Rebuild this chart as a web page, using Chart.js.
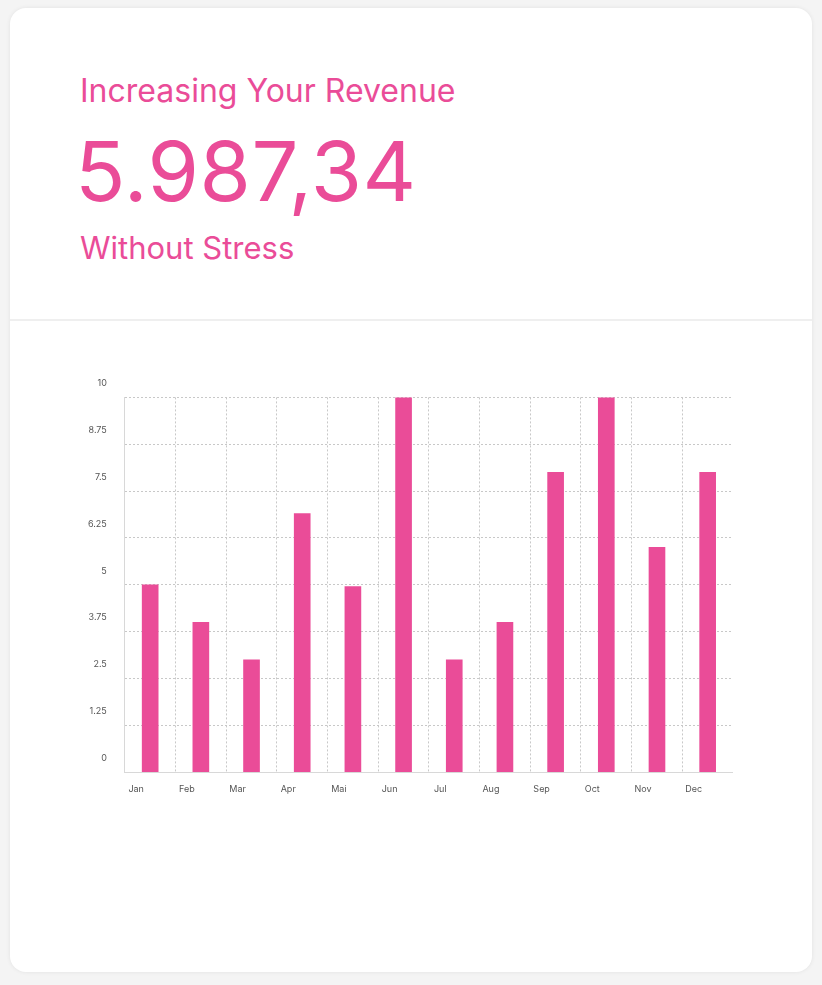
<!DOCTYPE html>
<html><head><meta charset="utf-8">
<script src="https://cdn.jsdelivr.net/npm/chart.js@4"></script>
<style>
body{margin:0;background:#f4f4f4;font-family:Inter,sans-serif}
.card{position:absolute;left:10px;top:8px;width:802px;height:964px;background:#fff;border-radius:16px;box-shadow:0 0 4px rgba(0,0,0,.08)}
.t1{position:absolute;left:70px;top:63px;font-size:32px;color:#ea4c98}
.t2{position:absolute;left:65px;top:113px;font-size:83px;color:#ea4c98;letter-spacing:0.5px}
.t3{position:absolute;left:70px;top:221px;font-size:31px;color:#ea4c98}
.hr{position:absolute;left:0;right:0;top:311px;border-top:2px solid #efefef}
.wrap{position:absolute;left:60px;top:366px;width:663px;height:433px}
</style></head><body>
<div class="card">
<div class="t1">Increasing Your Revenue</div>
<div class="t2">5.987,34</div>
<div class="t3">Without Stress</div>
<div class="hr"></div>
<div class="wrap"><canvas id="c"></canvas></div>
</div>
<script>
const months = ['Jan','Feb','Mar','Apr','Mai','Jun','Jul','Aug','Sep','Oct','Nov','Dec'];
const revenue = [5, 4, 3, 6.9, 4.95, 10, 3, 4, 8, 10, 6, 8];
const pink = '#ea4c98';

new Chart(document.getElementById('c').getContext('2d'), {
    type: 'bar',
    data: {
        labels: months,
        datasets: [{
            data: revenue,
            backgroundColor: pink,
            barThickness: 16,
        }]
    },
    options: {
        maintainAspectRatio: false,
        responsive: true,
        animation: false,
        plugins: { legend: { display: false }, tooltip: { enabled: false } },
        scales: {
            y: {
                min: 0, max: 10,
                ticks: {
                    stepSize: 1.25, color: '#555', font: { family: 'Inter', size: 9 },
                    labelOffset: -14, padding: 18,
                    callback: (v) => String(v)
                },
                grid: { color: '#c8c8c8', drawTicks: false },
                border: { color: '#d8d8d8', dash: [2, 2] }
            },
            x: {
                ticks: { color: '#555', font: { family: 'Inter', size: 9 }, labelOffset: -14, padding: 12 },
                grid: { color: '#c8c8c8', drawTicks: false, offset: true },
                border: { color: '#d8d8d8', dash: [2, 2] }
            }
        }
    }
});
</script>
</body></html>
